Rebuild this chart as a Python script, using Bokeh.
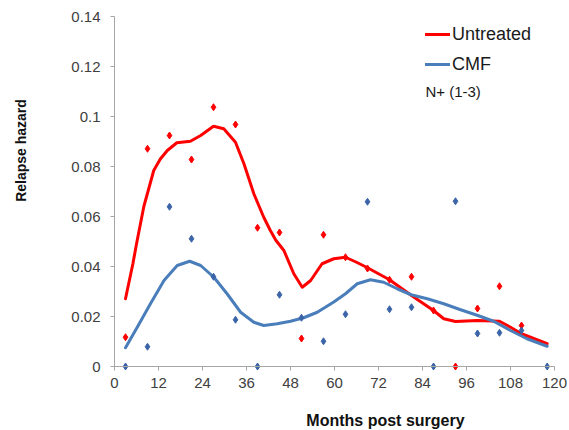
import math
from bokeh.plotting import figure
from bokeh.models import (Range1d, FixedTicker, CustomJSTickFormatter, Label,
                          Legend, LegendItem)
from bokeh.embed import file_html
from bokeh.resources import INLINE

# ---- data ----
x_ticks = [0, 12, 24, 36, 48, 60, 72, 84, 96, 108, 120]
y_ticks = [0, 0.02, 0.04, 0.06, 0.08, 0.1, 0.12, 0.14]

untreated_pt_months = [3, 9, 15, 21, 27, 33, 39, 45, 51, 57, 63, 69, 75, 81, 87, 93, 99, 105, 111]
untreated_pt_values = [0.0117, 0.0871, 0.0924, 0.0828, 0.1037, 0.0968, 0.0555, 0.0536, 0.0112,
                       0.0527, 0.0437, 0.0392, 0.0347, 0.0359, 0.0224, 0.0, 0.0232, 0.0321, 0.0164]

cmf_pt_months = [3, 9, 15, 21, 27, 33, 39, 45, 51, 57, 63, 69, 75, 81, 87, 93, 99, 105, 111, 118]
cmf_pt_values = [0.0, 0.0079, 0.0639, 0.0511, 0.0359, 0.0187, 0.0, 0.0287, 0.0195, 0.0101,
                 0.0209, 0.0659, 0.0229, 0.0237, 0.0, 0.0661, 0.0132, 0.0135, 0.0144, 0.0]

untreated_curve_months = [3, 5, 6, 8, 10.7, 12.5, 14.4, 17, 20.7, 23.5, 27, 29.8, 33, 35.3, 38,
                          40.7, 42.5, 44, 46.2, 48.9, 51.2, 53.5, 56.6, 59.8, 63, 66, 69, 75, 81,
                          87, 89.8, 93, 99, 105, 108, 111, 118]
untreated_curve_values = [0.0271, 0.041, 0.049, 0.064, 0.0784, 0.083, 0.0864, 0.0895, 0.0901,
                          0.0924, 0.0961, 0.0951, 0.0897, 0.0811, 0.0691, 0.0597, 0.0544, 0.0505,
                          0.0464, 0.0371, 0.0317, 0.0344, 0.0411, 0.0431, 0.0437, 0.0417, 0.0395,
                          0.0347, 0.0284, 0.0224, 0.0191, 0.018, 0.0184, 0.0181, 0.0157, 0.0131,
                          0.0091]

cmf_curve_months = [3, 6.2, 9.8, 13.5, 17.1, 20.5, 23.5, 27.1, 30.7, 34.4, 38, 40.7, 44.4, 48,
                    51.6, 55.3, 59.8, 63, 66.2, 69.8, 73.4, 77.1, 80.9, 85.3, 89.8, 94.4, 99.1,
                    103.4, 108, 112.5, 118]
cmf_curve_values = [0.0075, 0.0157, 0.0251, 0.0344, 0.0404, 0.0421, 0.0404, 0.0357, 0.0291,
                    0.0217, 0.0177, 0.0164, 0.0171, 0.0181, 0.0195, 0.0217, 0.0258, 0.0291,
                    0.0331, 0.0347, 0.0337, 0.0311, 0.0287, 0.0271, 0.0251, 0.0227, 0.0204,
                    0.0181, 0.0144, 0.0111, 0.0081]

RED = "#ff0000"
BLUE_LINE = "#4a7ebb"
BLUE_PT = "#3b64a8"
FONT = "Liberation Sans"

W, H = 569, 430
X0_PX, PX_PER_MONTH = 114, 440 / 120
Y0_PX, PX_PER_UNIT = 366, 2500

p = figure(width=W, height=H, output_backend="svg", toolbar_location=None,
           x_range=Range1d(-X0_PX / PX_PER_MONTH, (W - X0_PX) / PX_PER_MONTH),
           y_range=Range1d(-(H - Y0_PX) / PX_PER_UNIT, Y0_PX / PX_PER_UNIT),
           min_border=0)
p.outline_line_color = None
p.grid.visible = False
p.background_fill_color = "white"

# axes
for ax in (p.xaxis[0], p.yaxis[0]):
    ax.axis_line_color = "#a6a6a6"
    ax.major_tick_line_color = "#a6a6a6"
    ax.minor_tick_line_color = None
    ax.major_tick_in = 0
    ax.major_tick_out = 4
    ax.major_label_text_font = FONT
    ax.major_label_text_font_size = "15px"
    ax.major_label_text_color = "#404040"
    ax.fixed_location = 0

p.xaxis.ticker = FixedTicker(ticks=x_ticks)
p.xaxis.bounds = (-0.6, 120)
p.xaxis.major_label_standoff = 7
p.yaxis.ticker = FixedTicker(ticks=y_ticks)
p.yaxis.bounds = (0, 0.14)
p.yaxis.major_label_standoff = 10
p.yaxis.formatter = CustomJSTickFormatter(
    code="var s = tick.toFixed(2); s = s.replace(/0+$/, ''); s = s.replace(/\\.$/, ''); return s;")

# curves
r_red = p.line(untreated_curve_months, untreated_curve_values, line_color=RED, line_width=3,
               line_join="round", line_cap="round")
r_blue = p.line(cmf_curve_months, cmf_curve_values, line_color=BLUE_LINE, line_width=3,
                line_join="round", line_cap="round")

# points
p.scatter(untreated_pt_months, untreated_pt_values, marker="diamond", size=7,
          fill_color=RED, line_color=RED)
p.scatter(cmf_pt_months, cmf_pt_values, marker="diamond", size=7,
          fill_color=BLUE_PT, line_color=BLUE_PT)

legend = Legend(items=[LegendItem(label="Untreated", renderers=[r_red]),
                       LegendItem(label="CMF", renderers=[r_blue])],
                location=(425, 354), orientation="vertical",
                glyph_width=25, glyph_height=24, label_height=24, label_standoff=2,
                spacing=6, padding=0, margin=0, border_line_color=None,
                background_fill_alpha=0, label_text_font=FONT,
                label_text_font_size="18px", label_text_color="#1a1a1a")
p.add_layout(legend)

p.add_layout(Label(x=84.8, y=0.11, text="N+ (1-3)", text_font=FONT, text_font_size="15px",
                   text_color="#1a1a1a", text_align="left", text_baseline="middle"))

# axis titles
p.add_layout(Label(x=73.9, y=-0.0216, text="Months post surgery", text_font=FONT,
                   text_font_size="16px", text_font_style="bold", text_color="#111111",
                   text_align="center", text_baseline="middle"))
p.add_layout(Label(x=-25.4, y=0.0864, text="Relapse hazard", text_font=FONT,
                   text_font_size="14px", text_font_style="bold", text_color="#111111",
                   text_align="center", text_baseline="middle", angle=math.pi / 2))

open("out.html", "w").write(file_html(p, INLINE))
